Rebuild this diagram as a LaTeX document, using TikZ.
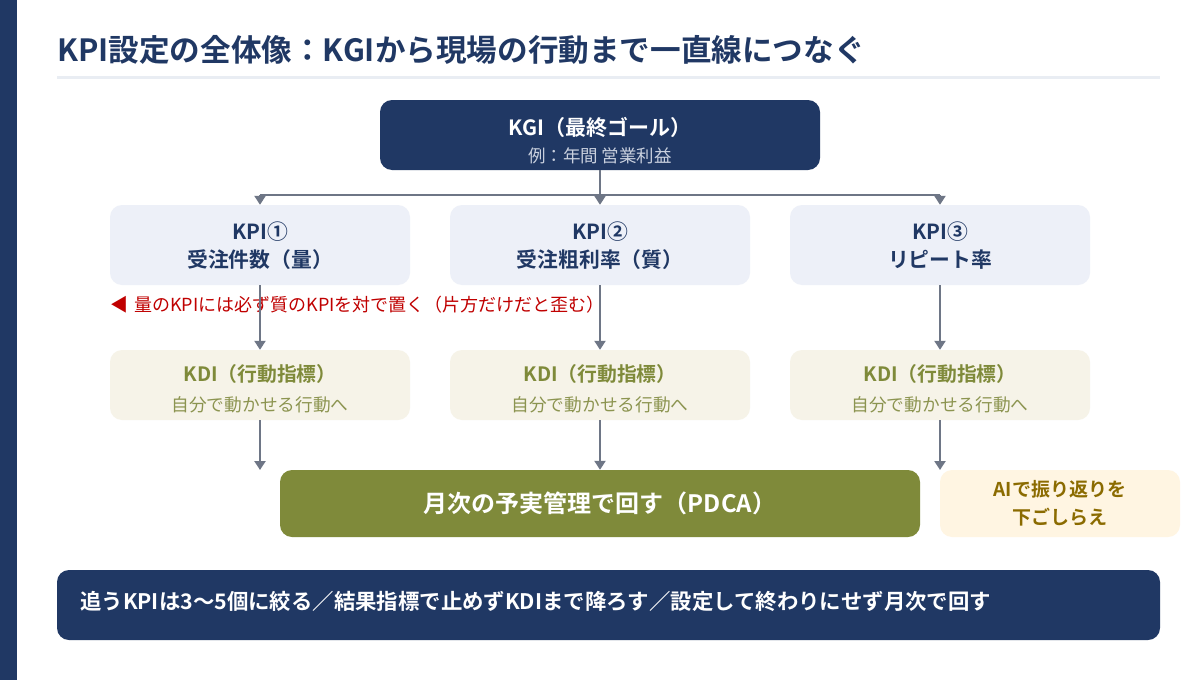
\documentclass[tikz,border=0pt]{standalone}
\usepackage{fontspec}
\setmainfont{Noto Sans CJK JP}[BoldFont={Noto Sans CJK JP Bold}]
\usetikzlibrary{arrows.meta}
\definecolor{navy}{HTML}{203864}
\definecolor{conngray}{HTML}{6E7686}
\definecolor{sepgray}{HTML}{E9EDF3}
\definecolor{kpifill}{HTML}{EDF0F8}
\definecolor{kdifill}{HTML}{F6F3E8}
\definecolor{olive}{HTML}{7F8A3A}
\definecolor{olivelight}{HTML}{8C9450}
\definecolor{aifill}{HTML}{FFF5E2}
\definecolor{aitext}{HTML}{8B6B00}
\definecolor{notered}{HTML}{C00000}
\definecolor{subgray}{HTML}{C9D0DE}
\begin{document}
\begin{tikzpicture}[x=1pt,y=-1pt,
  box/.style={rounded corners=12pt, inner sep=0pt, align=center},
  lvl/.style={box, minimum width=300pt, minimum height=80pt},
  kdibox/.style={box, fill=kdifill, minimum width=300pt, minimum height=70pt},
  kpititle/.style={font=\bfseries\fontsize{20.8}{24}\selectfont, text=navy, inner sep=0pt},
  kdititle/.style={font=\bfseries\fontsize{19.8}{23}\selectfont, text=olive, inner sep=0pt},
  kdisub/.style={font=\fontsize{17.7}{21}\selectfont, text=olivelight, inner sep=0pt},
  connline/.style={draw=conngray, line width=2.5pt},
  conn/.style={connline, -{Triangle[width=11pt,length=9pt]}}]
\useasboundingbox[fill=white] (0,0) rectangle (1200,680);
\fill[navy] (0,0) rectangle (17,680);
\node[anchor=west, inner sep=0pt, font=\bfseries\fontsize{30.6}{36}\selectfont, text=navy] (title) at (57,50) {KPI設定の全体像：KGIから現場の行動まで一直線につなぐ};
\draw[sepgray, line width=3pt] (57,77) -- (1160,77);
% KGI
\node[box, fill=navy, minimum width=440pt, minimum height=70pt] (kgi) at (600,135) {};
\node[inner sep=0pt, font=\bfseries\fontsize{21}{25}\selectfont, text=white] (kgit) at (600,127) {KGI（最終ゴール）};
\node[inner sep=0pt, font=\fontsize{17.5}{20}\selectfont, text=subgray] (kgis) at (600,156) {例：年間 営業利益};
% KPI boxes
\node[lvl, fill=kpifill] (kpi1) at (260,245) {};
\node[lvl, fill=kpifill] (kpi2) at (600,245) {};
\node[lvl, fill=kpifill] (kpi3) at (940,245) {};
\node[kpititle] (kpi1a) at (260,232) {KPI①};
\node[kpititle] (kpi1b) at (260,260) {受注件数（量）};
\node[kpititle] (kpi2a) at (600,232) {KPI②};
\node[kpititle] (kpi2b) at (600,260) {受注粗利率（質）};
\node[kpititle] (kpi3a) at (940,232) {KPI③};
\node[kpititle] (kpi3b) at (940,260) {リピート率};
% note
\node[anchor=west, inner sep=0pt, font=\fontsize{18}{21}\selectfont, text=notered] (note) at (110,305) {◀\hspace{6pt}量のKPIには必ず質のKPIを対で置く（片方だけだと歪む）};
% KDI boxes
\node[kdibox] (kdi1) at (260,385) {};
\node[kdibox] (kdi2) at (600,385) {};
\node[kdibox] (kdi3) at (940,385) {};
\node[kdititle] (kdi1a) at (260,374) {KDI（行動指標）};
\node[kdisub] (kdi1b) at (260,405) {自分で動かせる行動へ};
\node[kdititle] (kdi2a) at (600,374) {KDI（行動指標）};
\node[kdisub] (kdi2b) at (600,405) {自分で動かせる行動へ};
\node[kdititle] (kdi3a) at (940,374) {KDI（行動指標）};
\node[kdisub] (kdi3b) at (940,405) {自分で動かせる行動へ};
% PDCA and AI
\node[box, fill=olive, minimum width=640pt, minimum height=67pt, text=white, font=\bfseries\fontsize{24}{28}\selectfont] (pdca) at (600,503.5) {月次の予実管理で回す（PDCA）};
\node[box, fill=aifill, minimum width=240pt, minimum height=67pt, text=aitext, font=\bfseries\fontsize{19}{28}\selectfont] (ai) at (1060,503.5) {AIで振り返りを\\下ごしらえ};
% bottom bar
\node[box, fill=navy, minimum width=1103pt, minimum height=70pt] (bottom) at (608.5,605) {};
\node[anchor=west, inner sep=0pt, text=white, font=\bfseries\fontsize{21.4}{25}\selectfont] (bottomt) at (80,601) {追うKPIは3〜5個に絞る／結果指標で止めずKDIまで降ろす／設定して終わりにせず月次で回す};
% connectors
\coordinate (bus) at (600,195);
\draw[conn] (kgi.south) -- (kpi2.north);
\draw[connline] (kpi1.north |- bus) -- (kpi3.north |- bus);
\draw[conn] (kpi1.north |- bus) -- (kpi1.north);
\draw[conn] (kpi3.north |- bus) -- (kpi3.north);
\draw[conn] (kpi1.south) -- (kdi1.north);
\draw[conn] (kpi2.south) -- (kdi2.north);
\draw[conn] (kpi3.south) -- (kdi3.north);
\coordinate (end1) at (260,470);
\coordinate (end3) at (940,470);
\draw[conn] (kdi1.south) -- (end1);
\draw[conn] (kdi2.south) -- (pdca.north);
\draw[conn] (kdi3.south) -- (end3);
\end{tikzpicture}
\end{document}
